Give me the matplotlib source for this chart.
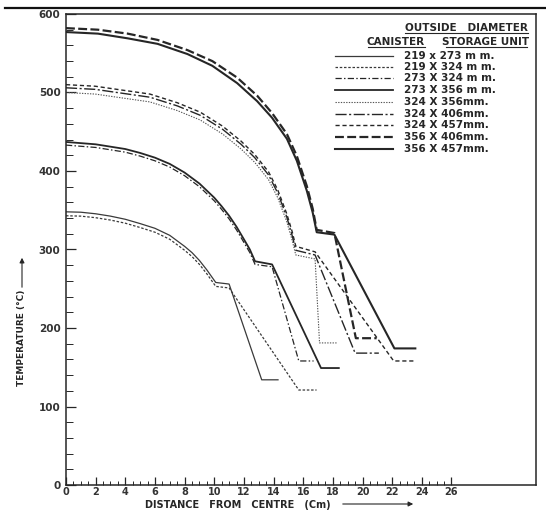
import matplotlib
matplotlib.use("Agg")
import matplotlib.pyplot as plt
from matplotlib.lines import Line2D
from matplotlib.patches import FancyArrowPatch
from matplotlib.ticker import FixedLocator

# ---- temperature profiles (distance from centre in cm, temperature in deg C) ----
labels = ["219 x 273 m m.", "219 X 324 m m.", "273 X 324 m m.", "273 X 356 m m.",
          "324 X 356mm.", "324 X 406mm.", "324 X 457mm.", "356 X 406mm.", "356 X 457mm."]

x_219_273 = [0, 1, 2, 3, 4, 5, 6, 7, 8, 8.5, 9, 9.5, 10.1, 11.0, 13.2, 14.3]
t_219_273 = [348, 347.5, 345.5, 342.5, 338.5, 333, 327, 318, 304, 296, 286, 274, 258, 256, 134, 134]

x_219_324 = [0, 1, 2, 3, 4, 5, 6, 7, 8, 8.5, 9, 9.5, 10.1, 11.0, 15.7, 16.9]
t_219_324 = [343, 342.5, 340.5, 337.5, 333.5, 328, 322, 313, 299, 291, 281, 269, 253, 251, 121, 121]

x_273_324 = [0, 2, 4, 5, 6, 7, 8, 9, 10, 10.5, 11, 11.5, 12, 12.4, 12.75, 13.9, 15.7, 16.7]
t_273_324 = [433, 430, 424, 419, 413, 405, 394, 380, 362, 351, 339, 325, 309, 296, 281, 278, 158, 158]

x_273_356 = [0, 2, 4, 5, 6, 7, 8, 9, 10, 10.5, 11, 11.5, 12, 12.4, 12.75, 13.9, 17.2, 18.4]
t_273_356 = [437, 434, 428, 423, 417, 409, 398, 384, 366, 355, 343, 329, 313, 300, 285, 281, 149, 149]

x_324_356 = [0, 1.97, 3.81, 5.66, 7.5, 9.05, 10.57, 11.81, 12.73, 13.66, 14.28, 14.88, 15.25, 15.5, 16.8, 17.1, 18.3]
t_324_356 = [500, 498, 493, 488, 477, 465, 447, 428, 411, 389, 366, 336, 312, 293, 288, 181, 181]

x_324_406 = [0, 1.97, 3.81, 5.66, 7.5, 9.05, 10.57, 11.81, 12.73, 13.66, 14.28, 14.88, 15.25, 15.5, 16.8, 19.5, 21.1]
t_324_406 = [506, 504, 499, 494, 483, 471, 453, 434, 417, 395, 372, 342, 318, 299, 293, 168, 168]

x_324_457 = [0, 1.97, 3.81, 5.66, 7.5, 9.05, 10.57, 11.81, 12.73, 13.66, 14.28, 14.88, 15.25, 15.5, 16.8, 22.1, 23.55]
t_324_457 = [510, 508, 503, 498, 487, 475, 457, 438, 421, 399, 376, 346, 323, 304, 297, 158, 158]

x_356_406 = [0, 2.15, 4.16, 6.17, 8.19, 9.87, 11.54, 12.89, 13.89, 14.9, 15.57, 16.24, 16.64, 16.91, 18.1, 19.55, 20.95]
t_356_406 = [582, 580, 575, 567, 554, 540, 519, 496, 474, 447, 419, 381, 352, 325, 321, 187, 187]

x_356_457 = [0, 2.15, 4.16, 6.17, 8.19, 9.87, 11.54, 12.89, 13.89, 14.9, 15.57, 16.24, 16.64, 16.91, 18.1, 22.15, 23.56]
t_356_457 = [577, 575, 569, 562, 549, 534, 512, 489, 468, 441, 413, 375, 347, 322, 319, 174, 174]

xs = [x_219_273, x_219_324, x_273_324, x_273_356, x_324_356, x_324_406, x_324_457, x_356_406, x_356_457]
ts = [t_219_273, t_219_324, t_273_324, t_273_356, t_324_356, t_324_406, t_324_457, t_356_406, t_356_457]

x_ticks = list(range(0, 27, 2))
y_ticks = [0, 100, 200, 300, 400, 500, 600]

# ---- line styles ----
INK = "#262626"
styles = [
    dict(ls="-", lw=0.9, color="#3a3a3a"),
    dict(ls=(0, (2.0, 1.4)), lw=0.9, color="#3a3a3a"),
    dict(ls=(0, (5, 1.8, 1.2, 1.8)), lw=0.9, color=INK),
    dict(ls="-", lw=1.3, color=INK),
    dict(ls=(0, (1.2, 1.2)), lw=0.8, color="#555555"),
    dict(ls=(0, (8, 1.8, 1.5, 1.8)), lw=1.0, color=INK),
    dict(ls=(0, (3, 2)), lw=1.0, color=INK),
    dict(ls=(0, (4, 1.5)), lw=1.6, color=INK),
    dict(ls="-", lw=1.5, color=INK),
]

W, H = 546, 511
fig = plt.figure(figsize=(W / 100, H / 100), dpi=100)
L, R, T, B = 66, 536, 14, 485
ax = fig.add_axes([L / W, 1 - B / H, (R - L) / W, (B - T) / H])

for x, t, st in zip(xs, ts, styles):
    ax.plot(x, t, **st)

ax.set_xlim(0, 31.7)
ax.set_ylim(0, 600)

for sp in ax.spines.values():
    sp.set_color(INK)
    sp.set_linewidth(1.1)

ax.xaxis.set_major_locator(FixedLocator(x_ticks))
ax.xaxis.set_minor_locator(FixedLocator([v * 0.5 for v in range(0, 53)]))
ax.yaxis.set_major_locator(FixedLocator(y_ticks))
ax.yaxis.set_minor_locator(FixedLocator(list(range(0, 601, 20))))
ax.set_xticklabels([str(v) for v in x_ticks], fontsize=7, color="#333333", fontweight="bold")
ax.set_yticklabels([str(v) for v in y_ticks], fontsize=7.5, color="#333333", fontweight="bold")
ax.tick_params(which="major", direction="in", length=6, width=0.9, color=INK)
ax.tick_params(which="minor", direction="in", length=3, width=0.7, color=INK)
ax.tick_params(axis="x", which="major", pad=1.5)
ax.tick_params(axis="y", which="major", length=7, pad=4)
ax.tick_params(axis="y", which="minor", length=5)

# ---- legend block ----
def axf(px, py):
    return (px - L) / (R - L), (B - py) / (B - T)

hdr = dict(fontsize=7.5, color=INK, fontweight="bold", transform=ax.transAxes)
for txt, cx, cy, x0, x1 in [("OUTSIDE   DIAMETER", 466, 28, 405, 528),
                            ("CANISTER", 396, 42, 368, 425),
                            ("STORAGE UNIT", 486, 42, 446, 527)]:
    a, b = axf(cx, cy)
    ax.text(a, b, txt, ha="center", va="center", **hdr)
    u0, ub = axf(x0, cy + 5.5)
    u1, _ = axf(x1, cy + 5.5)
    ax.add_line(Line2D([u0, u1], [ub, ub], transform=ax.transAxes, color=INK, lw=0.8))

entry_y = [56, 67.3, 78.3, 90, 102.3, 114, 125, 137.3, 149]
for lab, py, st in zip(labels, entry_y, styles):
    a0, b = axf(335, py)
    a1, _ = axf(393, py)
    ax.add_line(Line2D([a0, a1], [b, b], transform=ax.transAxes, **st))
    tx, _ = axf(404, py)
    ax.text(tx, b, lab, ha="left", va="center", fontsize=7.5, color=INK,
            fontweight="bold", transform=ax.transAxes)

# ---- axis titles with arrows ----
fig.text(22 / W, 1 - 338 / H, "TEMPERATURE (°C)", rotation=90, ha="center", va="center",
         fontsize=6.5, color=INK, fontweight="bold")
fig.add_artist(FancyArrowPatch(
    (22 / W, 1 - 290 / H), (22 / W, 1 - 255 / H), transform=fig.transFigure,
    arrowstyle="-|>", mutation_scale=7, color=INK, lw=0.8))

fig.text(238 / W, 1 - 505 / H, "DISTANCE   FROM   CENTRE   (Cm)", ha="center", va="center",
         fontsize=7, color=INK, fontweight="bold")
fig.add_artist(FancyArrowPatch(
    (340 / W, 1 - 504 / H), (416 / W, 1 - 504 / H), transform=fig.transFigure,
    arrowstyle="-|>", mutation_scale=7, color=INK, lw=0.8))

# rule across the top of the sheet
fig.add_artist(Line2D([5 / W, 1.0], [1 - 8 / H, 1 - 8 / H], transform=fig.transFigure,
                      color="#111111", lw=1.6))

fig.savefig("out.png", dpi=100, facecolor="white")
